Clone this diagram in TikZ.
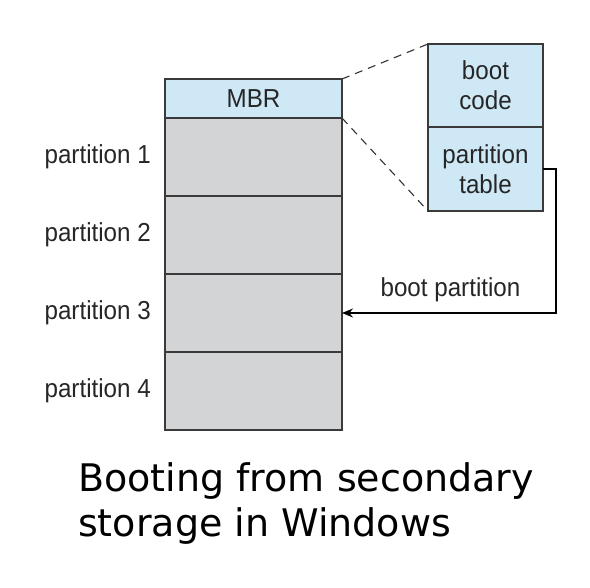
\documentclass[tikz,border=0pt]{standalone}
\usepackage{fontspec}
\setmainfont{Liberation Sans}
\newfontfamily\condfont[FakeStretch=0.93]{Liberation Sans}
\newfontfamily\titlefont{DejaVu Sans}
\usetikzlibrary{arrows.meta,calc}
\definecolor{boxblue}{HTML}{CFE8F6}
\definecolor{boxgray}{HTML}{D3D4D6}
\definecolor{edgegray}{HTML}{3A3A3A}
\begin{document}
\begin{tikzpicture}[x=1pt,y=-1pt,
  blk/.style={draw=edgegray,line width=1.2pt,minimum width=177pt,inner sep=0pt,outer sep=0pt},
  part/.style={blk,fill=boxgray,minimum height=78pt},
  rbox/.style={draw=edgegray,line width=1.2pt,fill=boxblue,minimum width=115pt,inner sep=0pt,outer sep=0pt,align=center,font=\condfont\fontsize{26}{30}\selectfont,text=black!85},
  lbl/.style={anchor=base east,inner sep=0pt,font=\condfont\fontsize{26}{30}\selectfont,text=black!85},
  dashline/.style={draw=black!80,line width=1.1pt,dash pattern=on 8pt off 6pt},
]
\useasboundingbox (0,0) rectangle (590,588);
\fill[white] (0,0) rectangle (590,588);
% disk
\node[blk,fill=boxblue,minimum height=39pt,font=\condfont\fontsize{26}{30}\selectfont,text=black!85] (mbr) at (253.5,98.5) {MBR};
\node[part] (p1) at (253.5,157) {};
\node[part] (p2) at (253.5,235) {};
\node[part] (p3) at (253.5,313) {};
\node[part] (p4) at (253.5,391) {};
\node[lbl] (l1) at (151,164) {partition 1};
\node[lbl] (l2) at (151,242) {partition 2};
\node[lbl] (l3) at (151,320) {partition 3};
\node[lbl] (l4) at (151,398) {partition 4};
% MBR detail
\node[rbox,minimum height=83pt] (bc) at (485.5,85.5) {boot\\code};
\node[rbox,minimum height=84pt] (pt) at (485.5,169) {partition\\table};
\draw[dashline] (mbr.north east) -- (bc.north west);
\draw[dashline] (mbr.south east) -- (pt.south west);
% arrow
\coordinate (c1) at ($(pt.east)+(13,0)$);
\draw[line width=1.6pt,-{Stealth[length=11pt,width=9pt]}] (pt.east) -- (c1) |- (p3.east);
\node[anchor=base,inner sep=0pt,font=\condfont\fontsize{26}{30}\selectfont,text=black!85] (bp) at (450.5,297) {boot partition};
% title
\node[anchor=north west,align=left,inner sep=0pt,font=\titlefont\fontsize{38}{45}\selectfont] (title) at (78,462) {Booting from secondary\\storage in Windows};
\end{tikzpicture}
\end{document}
